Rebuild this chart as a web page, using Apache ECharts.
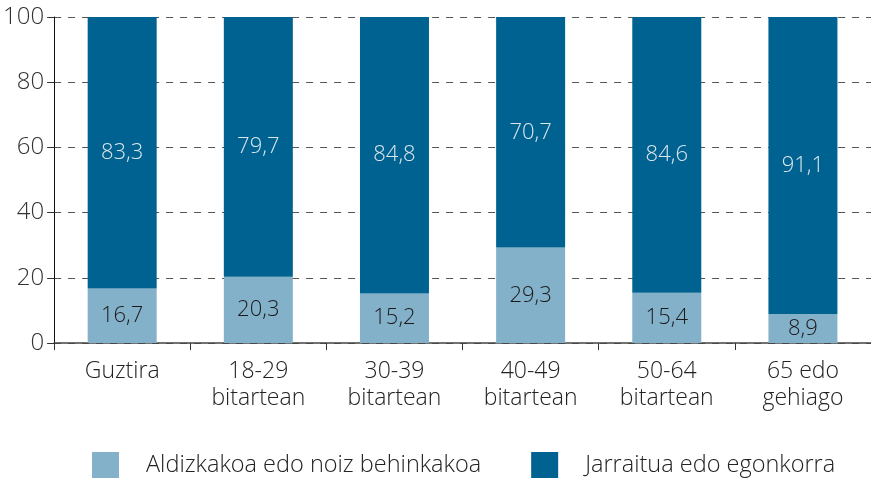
<!DOCTYPE html>
<html>
<head>
<meta charset="utf-8">
<script src="https://cdn.jsdelivr.net/npm/echarts@6/dist/echarts.min.js"></script>
<style>
  html, body { margin: 0; padding: 0; background: #fff; }
  #chart { width: 871px; height: 478px; }
</style>
</head>
<body>
<div id="chart"></div>
<script>
// data
var categories = ['Guztira', '18-29\nbitartean', '30-39\nbitartean', '40-49\nbitartean', '50-64\nbitartean', '65 edo\ngehiago'];
var aldizkakoa = [16.7, 20.3, 15.2, 29.3, 15.4, 8.9];
var jarraitua = [83.3, 79.7, 84.8, 70.7, 84.6, 91.1];
var seriesNames = ['Aldizkakoa edo noiz behinkakoa', 'Jarraitua edo egonkorra'];
var yTicks = { min: 0, max: 100, interval: 20 };

var fontFamily = '"Open Sans", "Noto Sans", sans-serif';

function comma(p) {
    return String(p.value).replace('.', ',');
}

var dom = document.getElementById('chart');
var myChart = echarts.init(dom);

var option = {
    animation: false,
    color: ['#84b1ca', '#006290'],
    textStyle: { fontFamily: fontFamily, fontWeight: 300 },
    grid: {
        left: 54,
        right: 0,
        top: 17,
        bottom: 135
    },
    legend: {
        left: 87,
        top: 447,
        itemWidth: 27,
        itemHeight: 27,
        itemGap: 50,
        icon: 'rect',
        textStyle: {
            fontSize: 23.5,
            color: '#222',
            fontWeight: 300,
            fontFamily: fontFamily,
            padding: [0, 0, 0, 22]
        },
        data: seriesNames
    },
    xAxis: {
        type: 'category',
        data: categories,
        axisLine: { lineStyle: { color: '#444', width: 1.5 } },
        axisTick: { show: true, length: 7, alignWithLabel: false, lineStyle: { color: '#333' } },
        axisLabel: {
            color: '#222',
            fontSize: 23,
            fontWeight: 300,
            lineHeight: 27,
            margin: 15,
            fontFamily: fontFamily
        }
    },
    yAxis: {
        type: 'value',
        min: yTicks.min,
        max: yTicks.max,
        interval: yTicks.interval,
        axisLine: { show: true, lineStyle: { color: '#111', width: 1 } },
        axisTick: { show: true, length: 7, lineStyle: { color: '#333' } },
        axisLabel: {
            color: '#333',
            fontSize: 24,
            fontWeight: 300,
            margin: 10,
            fontFamily: fontFamily
        },
        splitLine: {
            show: true,
            lineStyle: { color: '#555', type: [7, 7], width: 1 }
        }
    },
    series: [
        {
            name: seriesNames[0],
            type: 'bar',
            stack: 'total',
            barWidth: 69,
            data: aldizkakoa,
            label: {
                show: true,
                position: 'inside',
                color: '#1a1a1a',
                fontSize: 22,
                fontWeight: 300,
                fontFamily: fontFamily,
                formatter: comma
            }
        },
        {
            name: seriesNames[1],
            type: 'bar',
            stack: 'total',
            barWidth: 69,
            data: jarraitua,
            label: {
                show: true,
                position: 'inside',
                color: '#dbe7ee',
                fontSize: 22,
                fontWeight: 300,
                fontFamily: fontFamily,
                formatter: comma
            }
        }
    ]
};

if (option && typeof option === "object") {
    myChart.setOption(option, true);
}
</script>
</body>
</html>
